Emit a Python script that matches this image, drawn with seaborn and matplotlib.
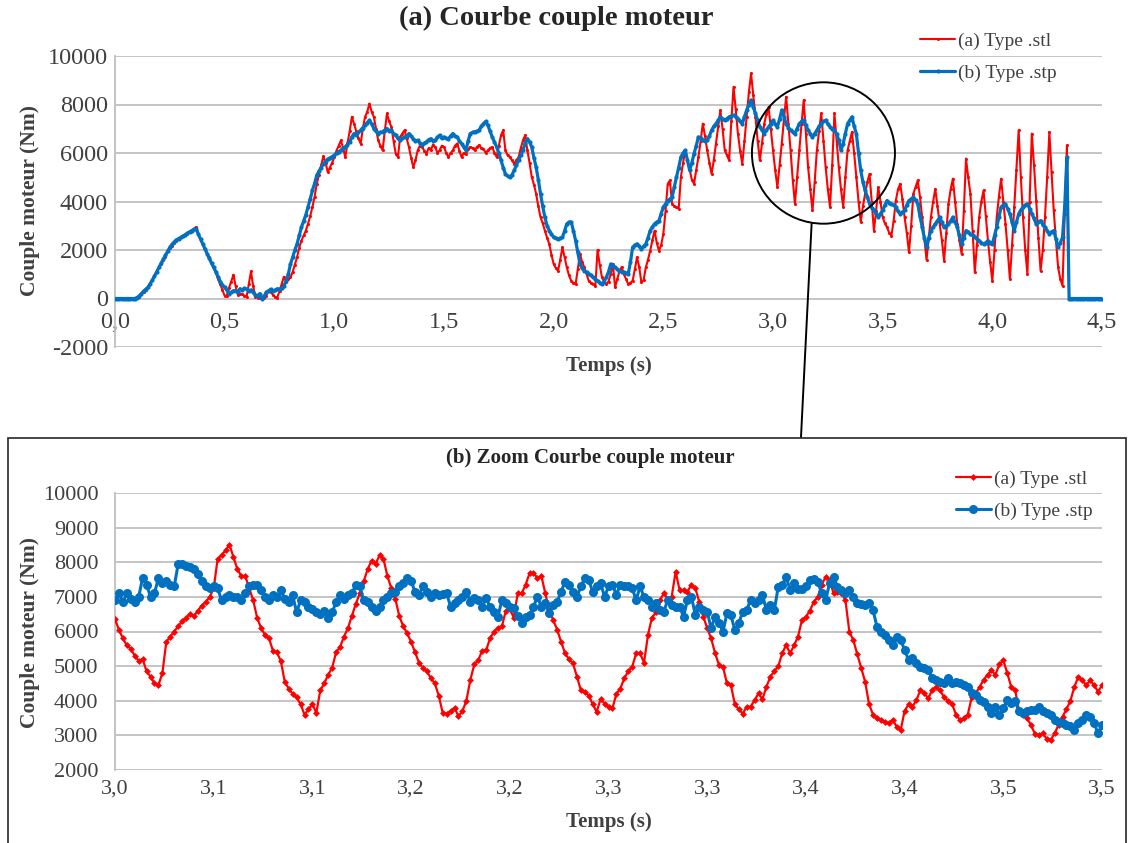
import numpy as np
import pandas as pd
import matplotlib
matplotlib.use('Agg')
import matplotlib.pyplot as plt
import seaborn as sns
from matplotlib.patches import Ellipse, Rectangle, ConnectionPatch

# ---- donnees ----
# courbe complete, pas de 0,01 s de 0,0 a 4,5 s
t_top = np.round(np.linspace(0, 4.5, 451), 2)

stl_top = [
    0, 0, 0, 0, 0, 0, 0, 0, 0, 0,
    30, 80, 170, 270, 370, 480, 620, 780, 940, 1110,
    1280, 1420, 1600, 1730, 1950, 2080, 2180, 2300, 2380, 2460,
    2520, 2580, 2620, 2680, 2740, 2800, 2870, 2950, 2650, 2450,
    2250, 2050, 1850, 1700, 1480, 1280, 1050, 820, 600, 350,
    110, 120, 450, 700, 980, 500, 150, 200, 180, 120,
    60, 600, 1120, 500, 80, 40, 20, 0, 30, 120,
    320, 280, 150, 60, 40, 300, 600, 900, 700, 800,
    870, 1100, 1400, 1700, 2100, 2390, 2600, 2800, 3080, 3400,
    3770, 4200, 4730, 5100, 5500, 5860, 5600, 5210, 5400, 5600,
    5830, 6100, 6300, 6520, 6200, 5830, 6400, 6900, 7490, 7200,
    6900, 6600, 6390, 7000, 7490, 7700, 8040, 7700, 7490, 7000,
    6520, 6300, 6110, 6900, 7630, 7300, 7080, 6500, 5970, 5830,
    6660, 6800, 6940, 6600, 6250, 5800, 5420, 5700, 6110, 6300,
    6250, 6100, 5970, 6200, 6110, 6350, 6250, 6000, 6110, 6300,
    6250, 6000, 5830, 6000, 6110, 6300, 6390, 6100, 5830, 6000,
    5970, 6150, 6250, 6200, 6110, 6250, 6320, 6200, 6180, 6000,
    6110, 6200, 6250, 6000, 5830, 6300, 6730, 6940, 6110, 5900,
    5830, 5700, 5560, 5700, 5830, 6200, 6520, 6730, 6110, 5600,
    5010, 4700, 4320, 3800, 3350, 3100, 2800, 2500, 2250, 1800,
    1420, 1250, 1140, 1600, 2110, 1700, 1280, 950, 730, 650,
    590, 1200, 1830, 1500, 1280, 1000, 730, 650, 590, 500,
    2000, 1400, 870, 700, 590, 700, 1000, 1420, 460, 800,
    1140, 1300, 1010, 800, 590, 650, 730, 1200, 1700, 1300,
    660, 750, 1280, 1600, 1970, 2400, 2800, 2300, 1970, 2200,
    2660, 3600, 4730, 4870, 3900, 3800, 3770, 3700, 5010, 5600,
    6110, 5700, 5280, 4900, 4730, 5300, 5830, 6500, 7210, 6700,
    6110, 5600, 5140, 5700, 6390, 7100, 7770, 7000, 6110, 5900,
    5700, 7300, 8730, 7800, 6800, 6100, 5560, 6500, 7490, 8500,
    9280, 8400, 7490, 6500, 5700, 6400, 7210, 7600, 7900, 7000,
    6110, 5300, 4590, 5500, 6390, 7400, 8320, 7200, 6110, 4900,
    3900, 5000, 6110, 7200, 8180, 6800, 5420, 4500, 3630, 4800,
    6110, 6900, 7630, 6500, 5420, 4500, 3770, 5500, 7630, 6500,
    5420, 4500, 3770, 5000, 6110, 6500, 6870, 6000, 5010, 4000,
    3150, 3800, 4320, 4800, 5140, 4000, 2800, 3600, 4590, 4000,
    3350, 3100, 2940, 2700, 2590, 3200, 4040, 4500, 4730, 4100,
    3350, 2700, 1900, 3000, 4320, 4600, 4870, 4200, 3350, 2500,
    1590, 2500, 3350, 4000, 4520, 3800, 3080, 2400, 1560, 2700,
    3900, 4500, 4940, 4000, 3080, 2400, 1830, 3600, 5770, 5000,
    4320, 2800, 1080, 2200, 3350, 4000, 4460, 3400, 2390, 1500,
    730, 2000, 3350, 4200, 4940, 4000, 3080, 2000, 800, 2200,
    3770, 5300, 6940, 5000, 3350, 2000, 1010, 4000, 6800, 5500,
    4040, 2500, 1140, 2000, 3350, 5000, 6870, 5200, 3630, 2400,
    1280, 800, 520, 3500, 6320, 0, 0, 0, 0, 0,
    0, 0, 0, 0, 0, 0, 0, 0, 0, 0,
    0,
]

stp_top = [
    0, 0, 0, 0, 0, 0, 0, 0, 0, 0,
    40, 100, 200, 300, 380, 455, 600, 750, 920, 1100,
    1280, 1450, 1620, 1780, 1950, 2110, 2230, 2330, 2420, 2470,
    2520, 2580, 2630, 2690, 2750, 2800, 2850, 2870, 2650, 2450,
    2250, 2050, 1850, 1650, 1450, 1280, 1100, 900, 700, 560,
    455, 350, 180, 250, 320, 320, 280, 400, 350, 420,
    390, 300, 350, 250, 150, 110, 200, 0, 100, 250,
    320, 380, 300, 350, 400, 390, 420, 500, 730, 1000,
    1420, 1700, 2000, 2250, 2600, 2940, 3200, 3450, 3770, 4100,
    4460, 4750, 5080, 5250, 5400, 5560, 5650, 5750, 5800, 5850,
    5900, 6000, 6050, 6110, 6200, 6250, 6350, 6450, 6660, 6800,
    6730, 6850, 6940, 7050, 7140, 7250, 7350, 7200, 7010, 6900,
    6800, 6850, 6870, 6950, 7010, 6900, 6940, 6800, 6730, 6600,
    6520, 6600, 6660, 6700, 6800, 6700, 6590, 6500, 6520, 6400,
    6320, 6400, 6460, 6550, 6590, 6500, 6520, 6650, 6730, 6600,
    6660, 6600, 6590, 6700, 6800, 6700, 6660, 6500, 6390, 6250,
    6110, 6500, 6800, 6850, 6870, 6900, 6940, 7100, 7210, 7300,
    7140, 6900, 6660, 6450, 6250, 6000, 5700, 5400, 5140, 5050,
    5010, 5100, 5280, 5500, 5700, 5900, 6110, 6400, 6590, 6450,
    6250, 5800, 5420, 4900, 4320, 3800, 3350, 3000, 2800, 2650,
    2520, 2480, 2460, 2490, 2520, 2800, 3080, 3150, 3150, 2800,
    2390, 1900, 1420, 1250, 1140, 1080, 1010, 950, 870, 800,
    730, 650, 590, 700, 870, 1100, 1420, 1350, 1280, 1200,
    1140, 1100, 1080, 1050, 1010, 1500, 2110, 2200, 2250, 2150,
    2040, 2150, 2250, 2500, 2800, 2950, 3080, 3150, 3210, 3500,
    3770, 3900, 4040, 4100, 4180, 4600, 5010, 5400, 5830, 6000,
    6110, 5700, 5280, 5600, 5970, 6300, 6660, 6600, 6520, 6500,
    6520, 6700, 6940, 7100, 7210, 7350, 7490, 7400, 7350, 7420,
    7490, 7520, 7560, 7500, 7420, 7300, 7210, 7500, 7770, 8000,
    8180, 7900, 7630, 7350, 7080, 6950, 6800, 6950, 7080, 7200,
    7350, 7200, 7080, 7400, 7770, 7500, 7210, 7050, 6940, 6870,
    6800, 7000, 7210, 7300, 7350, 7150, 6940, 6800, 6660, 6800,
    6940, 7100, 7210, 7300, 7350, 7200, 7080, 7000, 6940, 6800,
    6520, 6110, 6390, 6800, 7210, 7350, 7490, 7100, 6800, 6000,
    5280, 4800, 4460, 4200, 3900, 3750, 3630, 3500, 3350, 3500,
    3630, 3850, 4040, 3950, 3900, 3850, 3770, 3600, 3490, 3550,
    3630, 3850, 4040, 4100, 4180, 4050, 3900, 3400, 2940, 2500,
    2110, 2500, 2800, 2950, 3080, 3200, 3350, 3150, 2940, 3000,
    3080, 3200, 3350, 3150, 2940, 2600, 2250, 2500, 2800, 2750,
    2660, 2600, 2520, 2450, 2390, 2300, 2250, 2300, 2390, 2300,
    2250, 2600, 2940, 3350, 3770, 3850, 3900, 3700, 3490, 3150,
    2800, 3150, 3490, 3650, 3770, 3850, 3900, 3700, 3490, 3300,
    3080, 3150, 3210, 3050, 2940, 2800, 2660, 2750, 2800, 2450,
    2110, 2300, 2520, 3800, 5830, 0, 0, 0, 0, 0,
    0, 0, 0, 0, 0, 0, 0, 0, 0, 0,
    0,
]

# zoom, pas de 0,002 s de 3,0 a 3,5 s
t_zoom = np.round(np.linspace(3.0, 3.5, 251), 3)

stl_zoom = [
    6350, 6050, 5800, 5600, 5500, 5300, 5150, 5200, 4850, 4700,
    4500, 4450, 4800, 5700, 5850, 6000, 6150, 6300, 6400, 6500,
    6450, 6600, 6750, 6850, 7000, 7250, 8100, 8200, 8350, 8500,
    8150, 7800, 7600, 7600, 7250, 6900, 6400, 6100, 5900, 5800,
    5450, 5400, 5150, 4550, 4350, 4200, 4100, 3900, 3600, 3750,
    3900, 3650, 4300, 4500, 4750, 4950, 5400, 5550, 5850, 6100,
    6450, 6800, 7100, 7450, 7800, 8050, 7950, 8200, 8100, 7600,
    7250, 6950, 6450, 6150, 5950, 5700, 5400, 5100, 4950, 4850,
    4650, 4500, 4150, 3650, 3630, 3700, 3800, 3550, 3700, 4000,
    4600, 5050, 5170, 5450, 5460, 5800, 6000, 6100, 6150, 6600,
    6650, 6400, 7100, 7100, 7350, 7680, 7680, 7550, 7600, 7100,
    6600, 6330, 6050, 5700, 5370, 5200, 5080, 4700, 4300, 4260,
    4150, 3900, 3680, 4050, 3920, 3830, 3780, 4200, 4350, 4650,
    4850, 4980, 5370, 5370, 5100, 5900, 6400, 6550, 6900, 7100,
    6950, 7000, 7730, 7200, 7200, 7150, 7350, 7250, 6850, 6430,
    6100, 5800, 5370, 5030, 4980, 4500, 4450, 3900, 3750, 3630,
    3830, 3830, 4020, 4210, 4050, 4400, 4700, 4850, 5000, 5370,
    5610, 5370, 5600, 5850, 6330, 6420, 6600, 6850, 7000, 7350,
    7580, 7500, 7100, 7150, 7100, 6910, 6000, 5750, 5350, 4950,
    4550, 3900, 3600, 3500, 3450, 3400, 3350, 3450, 3250, 3150,
    3700, 3900, 3830, 4020, 4310, 4210, 4070, 4310, 4400, 4300,
    4100, 4000, 3920, 3600, 3450, 3500, 3600, 4100, 4210, 4400,
    4600, 4750, 4880, 4750, 5050, 5170, 4800, 4400, 4310, 3700,
    3580, 3500, 3300, 3050, 3000, 3060, 2900, 2870, 3060, 3300,
    3540, 3750, 4000, 4400, 4690, 4590, 4450, 4590, 4450, 4260,
    4450,
]

stp_zoom = [
    6900, 7100, 6850, 7100, 6950, 6850, 7000, 7550, 7350, 7000,
    7100, 7550, 7400, 7450, 7350, 7300, 7950, 7950, 7900, 7850,
    7800, 7650, 7450, 7300, 7250, 7300, 7250, 6900, 7000, 7050,
    7000, 7000, 6900, 7100, 7300, 7350, 7350, 7200, 7000, 6900,
    7050, 7000, 7200, 6950, 6850, 7050, 6550, 6900, 6850, 6700,
    6650, 6550, 6500, 6600, 6400, 6550, 6850, 7050, 6950, 7050,
    7100, 7350, 7300, 6900, 6850, 6700, 6600, 6720, 6910, 7000,
    7100, 7150, 7300, 7400, 7540, 7450, 7150, 7060, 7300, 7150,
    7000, 7100, 7060, 7080, 7100, 6720, 6810, 6900, 7000, 7150,
    6860, 6960, 6910, 6720, 6960, 6720, 6550, 6430, 6910, 6810,
    6720, 6670, 6450, 6240, 6430, 6480, 6720, 7000, 6720, 6810,
    6530, 6770, 6860, 7150, 7440, 7350, 7150, 7000, 7300, 7540,
    7490, 7150, 7300, 7400, 7000, 7300, 7350, 7060, 7350, 7300,
    7300, 7250, 6910, 7300, 7000, 6910, 6720, 6810, 6620, 6570,
    6910, 6770, 6720, 6720, 6430, 6910, 7000, 6480, 6720, 6620,
    6570, 6090, 6430, 6240, 6000, 6520, 6470, 6040, 6240, 6570,
    6620, 6910, 6810, 6900, 7050, 6620, 6760, 6620, 7290, 7340,
    7580, 7200, 7390, 7240, 7240, 7300, 7490, 7530, 7440, 7100,
    6910, 7390, 7580, 7290, 7200, 7100, 7200, 7000, 6810, 6780,
    6760, 6810, 6620, 6140, 6000, 5900, 5760, 5610, 5850, 5760,
    5470, 5180, 5230, 5080, 4980, 4950, 4890, 4650, 4600, 4550,
    4500, 4650, 4500, 4550, 4500, 4450, 4400, 4220, 4170, 4020,
    3950, 3830, 3640, 3830, 3590, 3780, 4020, 3930, 3980, 3690,
    3640, 3700, 3740, 3740, 3830, 3700, 3640, 3590, 3450, 3400,
    3350, 3300, 3260, 3160, 3350, 3450, 3590, 3540, 3350, 3060,
    3300,
]

xticks_top = [0.0, 0.5, 1.0, 1.5, 2.0, 2.5, 3.0, 3.5, 4.0, 4.5]
xlabels_top = ['0,0', '0,5', '1,0', '1,5', '2,0', '2,5', '3,0', '3,5', '4,0', '4,5']
yticks_top = [-2000, 0, 2000, 4000, 6000, 8000, 10000]

xticks_zoom = [3.00, 3.05, 3.10, 3.15, 3.20, 3.25, 3.30, 3.35, 3.40, 3.45, 3.50]
xlabels_zoom = ['3,0', '3,1', '3,1', '3,2', '3,2', '3,3', '3,3', '3,4', '3,4', '3,5', '3,5']
yticks_zoom = [2000, 3000, 4000, 5000, 6000, 7000, 8000, 9000, 10000]

label_stl = '(a) Type .stl'
label_stp = '(b) Type .stp'

# ---- style ----
sns.set_theme(style='white')
plt.rcParams['font.family'] = ['Liberation Serif', 'DejaVu Serif']

red = '#FF0000'
blue = '#0070C0'
grid_c = '#BFBFBF'
txt_c = '#404040'

W, H = 1128, 843
fig = plt.figure(figsize=(W / 100, H / 100), dpi=100)
ax1 = fig.add_axes([115 / W, 1 - 347 / H, 987 / W, 291 / H])
ax2 = fig.add_axes([115 / W, 1 - 770 / H, 987 / W, 277 / H])

df_top = pd.DataFrame({'t': t_top, 'stl': stl_top, 'stp': stp_top})
df_zoom = pd.DataFrame({'t': t_zoom, 'stl': stl_zoom, 'stp': stp_zoom})

# (a) courbe complete
sns.lineplot(data=df_top, x='t', y='stl', ax=ax1, color=red, lw=1.5,
             marker='o', markersize=2.2, markeredgewidth=0,
             estimator=None, label=label_stl, zorder=3)
sns.lineplot(data=df_top, x='t', y='stp', ax=ax1, color=blue, lw=2.3,
             marker='o', markersize=3.0, markeredgewidth=0,
             estimator=None, label=label_stp, zorder=4)

# (b) zoom
sns.lineplot(data=df_zoom, x='t', y='stl', ax=ax2, color=red, lw=1.6,
             marker='D', markersize=3.5, markeredgewidth=0,
             estimator=None, label=label_stl, zorder=3)
sns.lineplot(data=df_zoom, x='t', y='stp', ax=ax2, color=blue, lw=2.2,
             marker='o', markersize=6.5, markeredgewidth=0,
             estimator=None, label=label_stp, zorder=4)


def style_axes(ax, xticks, xlabels, yticks, xpad, ypad, fs):
    ax.set_xlim(xticks[0], xticks[-1])
    ax.set_ylim(yticks[0], yticks[-1])
    ax.set_xticks(xticks)
    ax.set_xticklabels(xlabels)
    ax.set_yticks(yticks)
    ax.set_yticklabels([str(v) for v in yticks])
    ax.grid(False)
    ax.grid(axis='y', color=grid_c, lw=1.3)
    ax.set_axisbelow(True)
    for s in ['top', 'right', 'bottom']:
        ax.spines[s].set_visible(False)
    ax.spines['left'].set_color(grid_c)
    ax.spines['left'].set_linewidth(1.3)
    ax.tick_params(axis='both', length=0, labelsize=fs, labelcolor=txt_c)
    ax.tick_params(axis='x', pad=xpad)
    ax.tick_params(axis='y', pad=ypad)
    ax.set_xlabel('Temps (s)', fontsize=15, fontweight='bold', color=txt_c)
    ax.set_ylabel('Couple moteur (Nm)', fontsize=15.5, fontweight='bold', color=txt_c)


style_axes(ax1, xticks_top, xlabels_top, yticks_top, 10, 5, 17.5)
style_axes(ax2, xticks_zoom, xlabels_zoom, yticks_zoom, 7, 12, 16)

# axe des x de (a) croise a 0
ax1.spines['bottom'].set_position(('data', 0))
ax1.xaxis.set_label_coords(0.5, -0.03)
ax1.yaxis.set_label_coords(-0.076, 0.505)
ax2.xaxis.set_label_coords(0.5, -0.15)
ax2.yaxis.set_label_coords(-0.076, 0.498)

leg_kw = dict(loc='upper left', bbox_transform=fig.transFigure, frameon=False,
              fontsize=14, handlelength=1.8, handletextpad=0.15,
              labelspacing=0.75, borderpad=0, borderaxespad=0, labelcolor=txt_c)
ax1.legend(bbox_to_anchor=(920 / W, 1 - 32 / H), **leg_kw)
ax2.legend(bbox_to_anchor=(956 / W, 1 - 470 / H), **leg_kw)

fig.text(556 / W, 1 - 18 / H, '(a) Courbe couple moteur', ha='center', va='center',
         fontsize=20.5, fontweight='bold', color='#262626')
fig.text(590 / W, 1 - 458 / H, '(b) Zoom Courbe couple moteur', ha='center', va='center',
         fontsize=15, fontweight='bold', color='#262626')

# cercle de zoom + trait vers le cadre (b)
ax1.add_patch(Ellipse((3.230, 6000), 0.652, 5830, fill=False, edgecolor='black',
                      lw=1.4, clip_on=False, zorder=5))
con = ConnectionPatch(xyA=(3.176, 3080), coordsA='data', axesA=ax1,
                      xyB=(801 / W, 1 - 437 / H), coordsB='figure fraction',
                      color='black', lw=1.4)
fig.add_artist(con)

fig.add_artist(Rectangle((8 / W, -0.01), (1126 - 8) / W, 0.01 + 1 - 438 / H,
                         transform=fig.transFigure, fill=False,
                         edgecolor='#262626', lw=1.2))

plt.savefig('out.png', dpi=100)
plt.close()
